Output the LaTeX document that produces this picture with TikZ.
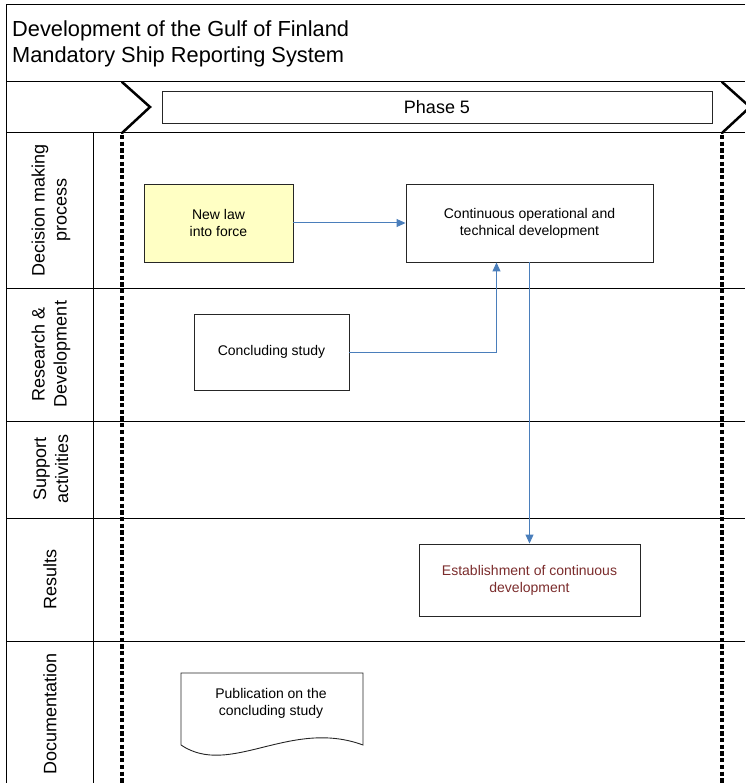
\documentclass[tikz,border=0pt]{standalone}
\usepackage{fontspec}
\setmainfont{Liberation Sans}
\usetikzlibrary{arrows.meta,calc}
\definecolor{flowblue}{HTML}{4A7EBB}
\definecolor{lawyellow}{HTML}{FFFFC4}
\definecolor{resultred}{HTML}{7B2C2C}

\begin{document}
\begin{tikzpicture}[x=1pt,y=-1pt,
  frame/.style={line width=1pt,draw=black},
  box/.style={draw=black!85,line width=0.9pt,align=center,
    font=\fontsize{14}{17}\selectfont,inner sep=0pt},
  lanelabel/.style={rotate=90,align=center,font=\fontsize{18}{22}\selectfont},
  titletext/.style={anchor=base west,inner sep=0pt,font=\fontsize{21.8}{25}\selectfont},
  flow/.style={draw=flowblue,line width=1pt,-{Triangle[length=9pt,width=8pt]}},
  phaseline/.style={line width=3.2pt,dash pattern=on 4.3pt off 2.4pt},
  chevron/.style={line width=2.5pt,line cap=round}]
\useasboundingbox (0,0) rectangle (745,783);

% swimlane frame
\draw[frame] (745,5) -- (6,5) -- (6,783);
\foreach \yy in {82,133,288,421,518,641}
  \draw[frame] (6,\yy) -- (745,\yy);
\draw[frame] (93,133) -- (93,783);

% title
\node[titletext] (title1) at (12,37) {Development of the Gulf of Finland};
\node[titletext] (title2) at (12,62.5) {Mandatory Ship Reporting System};

% phase header
\draw[chevron] (122,82) -- (150,107) -- (122,133);
\draw[chevron] (722,82) -- (750,107) -- (722,133);
\node[box,font=\fontsize{18}{21}\selectfont,minimum width=550pt,minimum height=32pt] (phase) at (437,107) {Phase 5};

% phase boundaries
\draw[phaseline] (122,135) -- (122,783);
\draw[phaseline] (722,135) -- (722,783);

% lane labels
\node[lanelabel] (lane1) at (51,210) {Decision making\\process};
\node[lanelabel] (lane2) at (51,354) {Research \&\\Development};
\node[lanelabel] (lane3) at (51,469) {Support\\activities};
\node[lanelabel] (lane4) at (50,579) {Results};
\node[lanelabel] (lane5) at (50,714) {Documentation};

% activities
\node[box,fill=lawyellow,minimum width=149pt,minimum height=78pt] (newlaw) at (218.5,223) {New law\\into force};
\node[box,minimum width=247pt,minimum height=78pt] (contdev) at (529.5,223) {Continuous operational and\\technical development};
\node[box,minimum width=155pt,minimum height=76pt] (study) at (271.5,352) {Concluding study};
\node[box,text=resultred,minimum width=221pt,minimum height=72pt] (establish) at (529.5,580) {Establishment of continuous\\development};

% document
\draw[draw=black!85,line width=0.9pt] (181,745) -- (181,673) -- (363,673) -- (363,745)
  .. controls (290,718) and (230,778) .. (181,745);
\node[align=center,font=\fontsize{14}{17}\selectfont,inner sep=0pt] (pub) at (271,703) {Publication on the\\concluding study};

% connectors
\draw[flow] (newlaw.east) -- (contdev.west);
\draw[flow] (study.east) -| ($(contdev.south)+(-33,0)$);
\draw[flow] (contdev.south) -- (establish.north);
\end{tikzpicture}
\end{document}
